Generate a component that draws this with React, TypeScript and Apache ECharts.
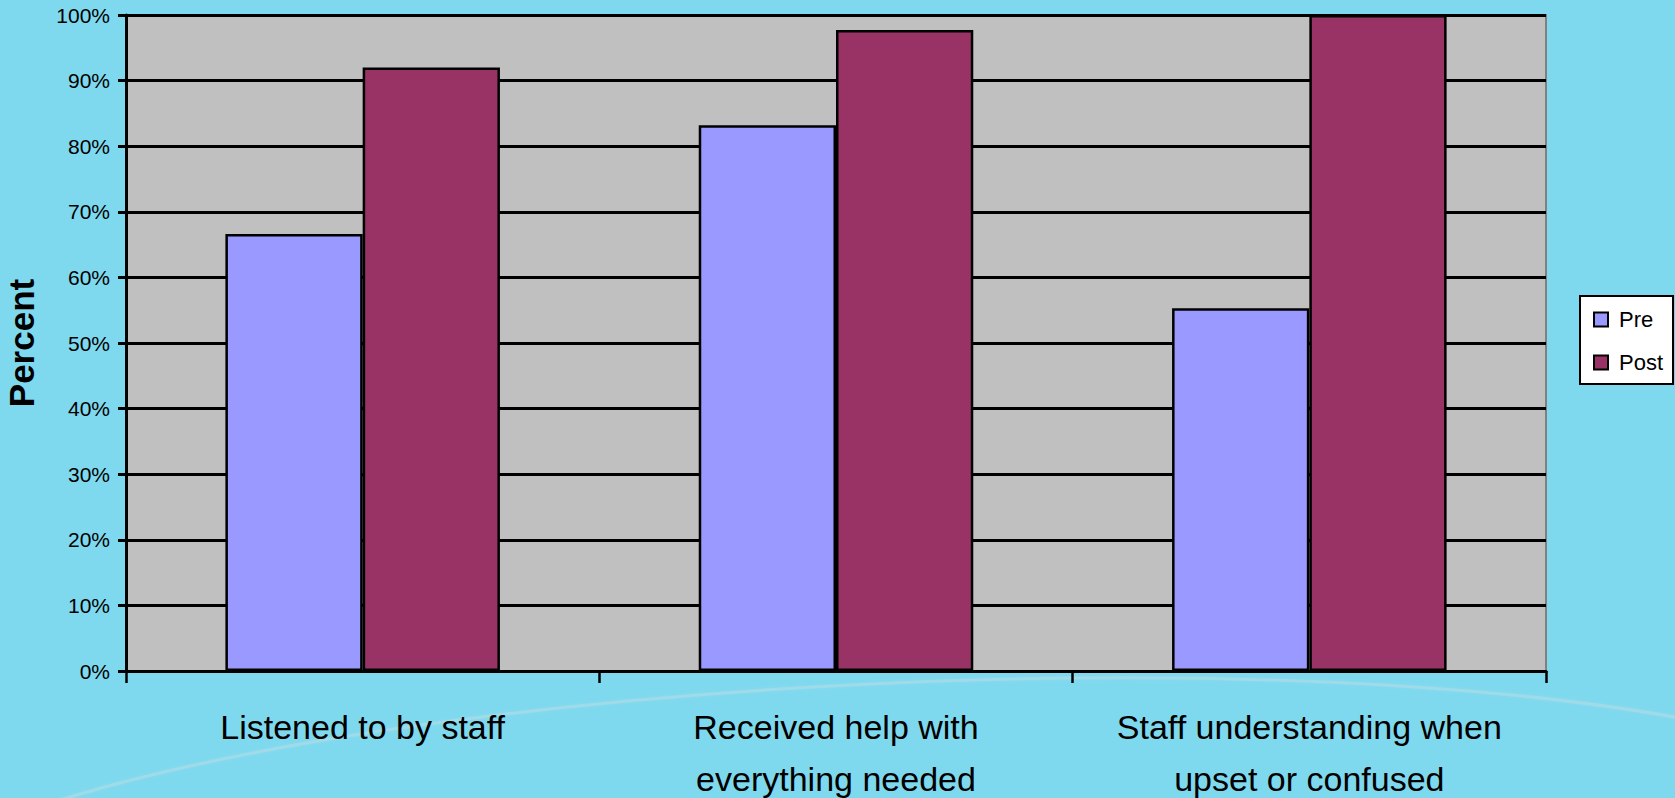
import React, { useEffect, useRef } from "react";
import * as echarts from "echarts";

// Survey responses, pre vs post, as percentages
const categories = [
  "Listened to by staff",
  "Received help with\neverything needed",
  "Staff understanding when\nupset or confused",
];
const preValues = [66.6, 83.2, 55.3];
const postValues = [92.0, 97.7, 100];
const seriesNames = ["Pre", "Post"];

const FONT = "'Liberation Sans', Arial, sans-serif";

export default function App() {
  const ref = useRef<HTMLDivElement>(null);

  useEffect(() => {
    document.body.style.margin = "0";
    document.body.style.background = "#7fd9ee";
    const chart = echarts.init(ref.current!, undefined, { renderer: "svg" });
    chart.setOption({
      animation: false,
      backgroundColor: "#7fd9ee",
      textStyle: { fontFamily: FONT },
      graphic: [
        {
          // faint decorative swoosh across the backdrop
          type: "bezierCurve",
          silent: true,
          z: -10,
          shape: {
            x1: 60, y1: 800,
            cpx1: 450, cpy1: 680,
            cpx2: 1250, cpy2: 640,
            x2: 1680, y2: 718,
          },
          style: {
            stroke: "rgba(205,222,226,0.35)",
            lineWidth: 3,
            fill: null,
            shadowBlur: 3,
            shadowColor: "rgba(205,222,226,0.4)",
          },
        },
      ],
      grid: {
        left: 126,
        top: 15,
        width: 1420,
        height: 656,
        outerBoundsMode: "none",
        containLabel: false,
        show: true,
        backgroundColor: "#c0c0c0",
        borderColor: "#808080",
        borderWidth: 2,
      },
      legend: {
        orient: "vertical",
        left: 1580,
        top: 296,
        padding: [12, 10, 10, 13],
        itemGap: 20,
        itemWidth: 14,
        itemHeight: 14,
        backgroundColor: "#ffffff",
        borderColor: "#000000",
        borderWidth: 2,
        icon: "rect",
        itemStyle: { borderColor: "#000000", borderWidth: 2 },
        textStyle: {
          fontFamily: FONT,
          fontSize: 22,
          lineHeight: 23,
          color: "#000000",
          padding: [0, 0, 0, 6],
        },
        data: seriesNames,
      },
      xAxis: {
        type: "category",
        data: categories,
        axisLine: { show: true, lineStyle: { color: "#000000", width: 3 } },
        axisTick: {
          show: true,
          alignWithLabel: false,
          length: 12,
          lineStyle: { color: "#000000", width: 2.5 },
        },
        axisLabel: {
          fontFamily: FONT,
          fontSize: 34,
          lineHeight: 52,
          margin: 30,
          color: "#000000",
          interval: 0,
        },
        splitLine: { show: false },
      },
      yAxis: {
        type: "value",
        min: 0,
        max: 100,
        interval: 10,
        name: "Percent",
        nameLocation: "middle",
        nameGap: 87,
        nameTextStyle: {
          fontFamily: FONT,
          fontSize: 35,
          fontWeight: "bold",
          color: "#000000",
        },
        axisLine: { show: true, lineStyle: { color: "#000000", width: 3 } },
        axisTick: {
          show: true,
          length: 8,
          lineStyle: { color: "#000000", width: 3 },
        },
        axisLabel: {
          fontFamily: FONT,
          fontSize: 21,
          margin: 16,
          color: "#000000",
          formatter: "{value}%",
        },
        splitLine: { show: true, lineStyle: { color: "#000000", width: 3 } },
      },
      series: [
        {
          name: seriesNames[0],
          type: "bar",
          data: preValues,
          barGap: "0%",
          barCategoryGap: "42%",
          itemStyle: { color: "#9999ff", borderColor: "#000000", borderWidth: 2.5 },
        },
        {
          name: seriesNames[1],
          type: "bar",
          data: postValues,
          barGap: "0%",
          barCategoryGap: "42%",
          itemStyle: { color: "#993366", borderColor: "#000000", borderWidth: 2.5 },
        },
      ],
    });
    return () => chart.dispose();
  }, []);

  return <div ref={ref} style={{ width: 1675, height: 798 }} />;
}
